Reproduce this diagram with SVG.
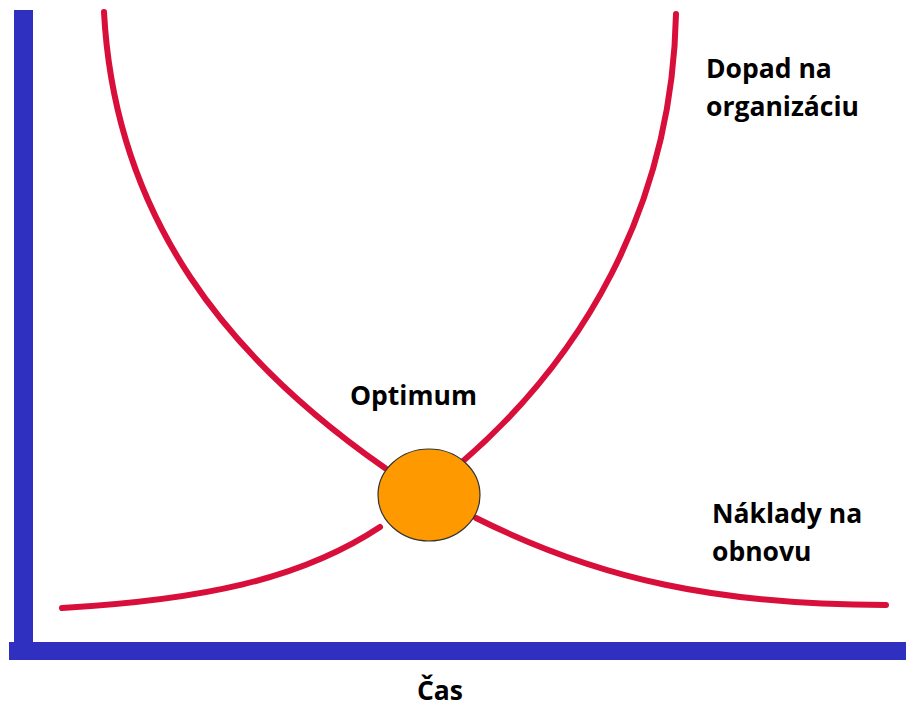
<svg xmlns="http://www.w3.org/2000/svg" width="906" height="707" viewBox="0 0 906 707">
<style>
.curve{fill:none;stroke:#d80f3a;stroke-width:6;stroke-linecap:round}
.axis{fill:#3030c0}
.lbl{font-family:"Open Sans","Noto Sans",sans-serif;font-weight:bold;font-size:26.5px;fill:#000}
</style>
<rect width="906" height="707" fill="#fff"/>
<g id="axes">
<rect class="axis" x="14" y="10" width="19" height="650"/>
<rect class="axis" x="9" y="642" width="897" height="18"/>
</g>
<g id="connectors">
<path class="curve" d="M104,12 C115,220 230,360 385,468"/>
<path class="curve" d="M676,14 C672,210 580,360 462,462"/>
<path class="curve" d="M62,608 C200,600 300,580 380,527"/>
<path class="curve" d="M476,518 C600,580 720,605 886,605"/>
</g>
<g id="optimum">
<ellipse cx="429" cy="495" rx="51" ry="46" fill="#ff9900" stroke="#333" stroke-width="1.2"/>
<text class="lbl" x="350" y="405">Optimum</text>
</g>
<g id="dopad">
<text class="lbl" x="706" y="78">Dopad na</text>
<text class="lbl" x="706" y="116">organizáciu</text>
</g>
<g id="naklady">
<text class="lbl" x="712" y="523">Náklady na</text>
<text class="lbl" x="712" y="561">obnovu</text>
</g>
<g id="cas">
<text class="lbl" x="440" y="700" text-anchor="middle">Čas</text>
</g>
</svg>
